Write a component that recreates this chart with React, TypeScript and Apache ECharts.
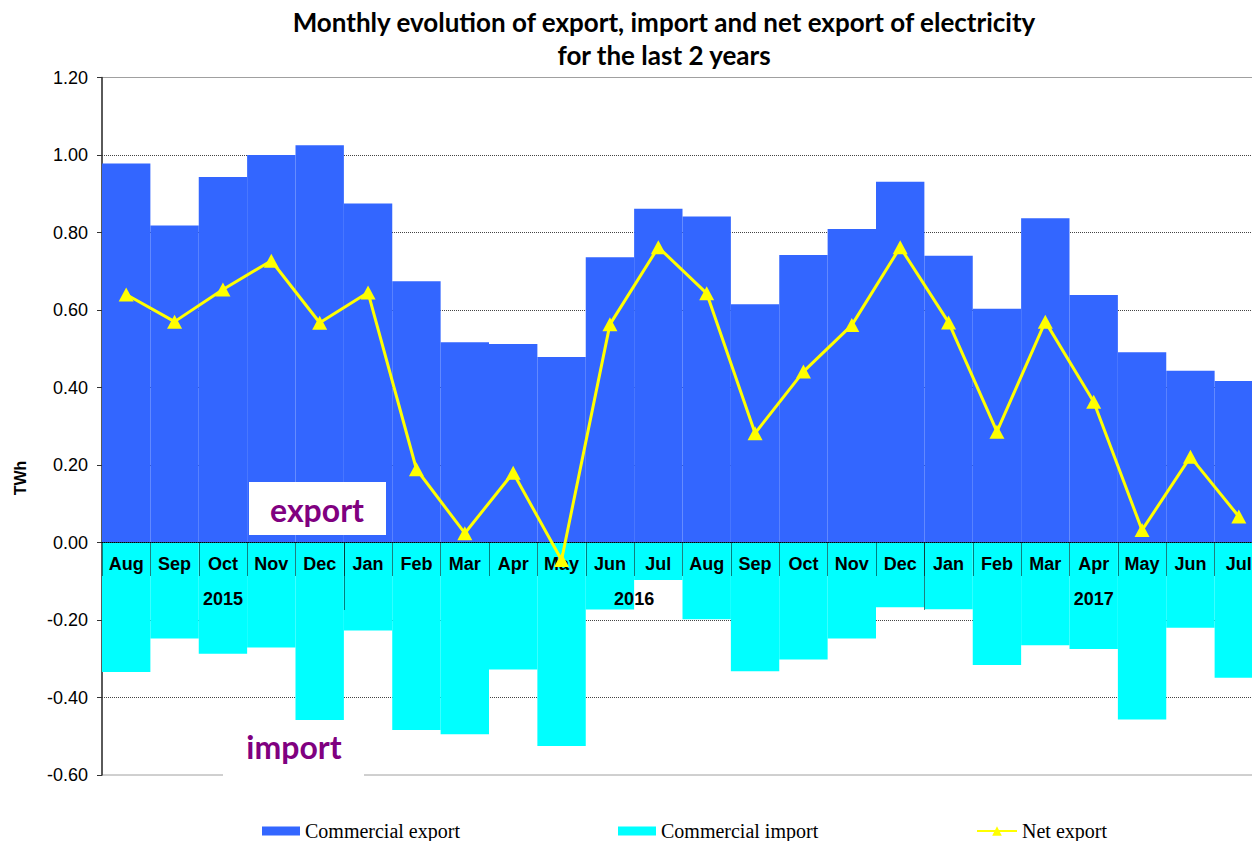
import React, { useEffect, useRef } from "react";
import * as echarts from "echarts";

const months = ["Aug", "Sep", "Oct", "Nov", "Dec", "Jan", "Feb", "Mar", "Apr", "May", "Jun", "Jul", "Aug", "Sep", "Oct", "Nov", "Dec", "Jan", "Feb", "Mar", "Apr", "May", "Jun", "Jul"];
const exportValues = [0.978, 0.818, 0.943, 1.0, 1.025, 0.875, 0.674, 0.517, 0.512, 0.479, 0.736, 0.861, 0.841, 0.615, 0.742, 0.809, 0.931, 0.74, 0.603, 0.837, 0.639, 0.491, 0.443, 0.417];
const importValues = [-0.334, -0.248, -0.287, -0.271, -0.458, -0.227, -0.484, -0.495, -0.328, -0.525, -0.173, -0.097, -0.198, -0.332, -0.302, -0.248, -0.167, -0.172, -0.316, -0.265, -0.275, -0.457, -0.22, -0.349];
const netValues = [0.64, 0.57, 0.653, 0.727, 0.567, 0.645, 0.189, 0.024, 0.18, -0.045, 0.563, 0.762, 0.643, 0.282, 0.441, 0.561, 0.762, 0.568, 0.286, 0.57, 0.363, 0.032, 0.221, 0.067];
const years = ["2015", "2016", "2017"];
const yearMonthCounts = [5, 12, 7];
const yTicks = { min: -0.6, max: 1.2, interval: 0.2 };

// half-month slots for the year axis (boundaryGap false: slot k sits at k/2 months)
const yearSlots: string[] = new Array(months.length * 2 + 1).fill("");
const yearTickSlots = new Set<number>();
const yearLabelSlots = new Set<number>();
{
  let start = 0;
  years.forEach((y, i) => {
    const c = yearMonthCounts[i];
    const mid = start * 2 + c;
    yearSlots[mid] = y;
    yearLabelSlots.add(mid);
    if (start > 0) yearTickSlots.add(start * 2);
    start += c;
  });
}

const axisFont = "'Liberation Sans', Arial, sans-serif";
const calibriLike = "Lato, 'Open Sans', sans-serif";

export default function App() {
  const ref = useRef<HTMLDivElement>(null);
  useEffect(() => {
    if (!ref.current) return;
    const chart = echarts.init(ref.current, null, { renderer: "svg" });
    const legendText = { fontFamily: "'Liberation Serif', 'Times New Roman', serif", fontSize: 20, color: "#000" };
    chart.setOption({
      animation: false,
      backgroundColor: "#fff",
      title: {
        text: "Monthly evolution of export, import and net export of electricity\nfor the last 2 years",
        left: 659,
        top: 0,
        textAlign: "center",
        textStyle: { fontFamily: calibriLike, fontSize: 26, fontWeight: "bold", lineHeight: 33, color: "#000" },
      },
      grid: {
        left: 102,
        width: 1161,
        top: 77.5,
        bottom: 66,
        containLabel: false,
        outerBoundsMode: "none",
        show: true,
        borderColor: "#a0a0a0",
        borderWidth: 1,
        backgroundColor: "transparent",
      },
      legend: [
        { data: ["Commercial export"], left: 262, top: 821, padding: 0, itemWidth: 38, itemHeight: 9, itemGap: 0, icon: "rect", textStyle: legendText },
        { data: ["Commercial import"], left: 618, top: 821, padding: 0, itemWidth: 38, itemHeight: 9, itemGap: 0, icon: "rect", textStyle: legendText },
        { data: ["Net export"], left: 976, top: 821, padding: 0, itemWidth: 40, itemHeight: 12, itemGap: 0, textStyle: legendText },
      ],
      xAxis: [
        {
          type: "category",
          data: months,
          boundaryGap: true,
          position: "bottom",
          z: 3,
          axisLine: { onZero: false, lineStyle: { color: "#000", type: "dotted", width: 1 } },
          axisTick: { show: true, interval: 0, length: 34, lineStyle: { color: "#000", type: "dotted", width: 1 } },
          axisLabel: { interval: 0, margin: 12, fontFamily: axisFont, fontSize: 18, fontWeight: "bold", color: "#000" },
          splitLine: { show: false },
        },
        {
          type: "category",
          data: yearSlots,
          boundaryGap: false,
          position: "bottom",
          z: 3,
          axisLine: { show: false, onZero: false },
          axisTick: { show: true, interval: (i: number) => yearTickSlots.has(i), length: 68, lineStyle: { color: "#000", type: "dotted", width: 1 } },
          axisLabel: { interval: (i: number) => yearLabelSlots.has(i), margin: 47, fontFamily: axisFont, fontSize: 18, fontWeight: "bold", color: "#000" },
          splitLine: { show: false },
        },
      ],
      yAxis: {
        type: "value",
        min: yTicks.min,
        max: yTicks.max,
        interval: yTicks.interval,
        axisLine: { show: true, lineStyle: { color: "#333", width: 1.5 } },
        axisTick: { show: true, length: 5, lineStyle: { color: "#333" } },
        axisLabel: { margin: 14, fontFamily: axisFont, fontSize: 18, color: "#000", formatter: (v: number) => v.toFixed(2) },
        splitLine: { show: true, showMinLine: false, showMaxLine: false, lineStyle: { color: "#444", type: "dotted", width: 1 } },
      },
      series: [
        {
          name: "Commercial export",
          type: "bar",
          xAxisIndex: 0,
          data: exportValues,
          barCategoryGap: "0%",
          barGap: "-100%",
          itemStyle: { color: "#3366FF" },
          z: 2,
        },
        {
          name: "Commercial import",
          type: "bar",
          xAxisIndex: 0,
          data: importValues,
          barCategoryGap: "0%",
          barGap: "-100%",
          itemStyle: { color: "#00FFFF" },
          z: 2,
        },
        {
          name: "Net export",
          type: "line",
          xAxisIndex: 0,
          data: netValues,
          symbol: "triangle",
          symbolSize: [15, 14],
          lineStyle: { color: "#FFFF00", width: 3 },
          itemStyle: { color: "#FFFF00" },
          z: 5,
        },
      ],
      graphic: [
        {
          type: "text",
          x: 20,
          y: 478,
          rotation: Math.PI / 2,
          style: { text: "TWh", fontFamily: axisFont, fontSize: 16, fontWeight: "bold", fill: "#000", align: "center", verticalAlign: "middle" },
          z: 10,
        },
        { type: "rect", shape: { x: 249, y: 482, width: 137, height: 53 }, style: { fill: "#fff" }, z: 10 },
        {
          type: "text",
          x: 317,
          y: 509,
          style: { text: "export", fontFamily: calibriLike, fontSize: 32, fontWeight: "bold", fill: "#800080", align: "center", verticalAlign: "middle" },
          z: 11,
        },
        { type: "rect", shape: { x: 223, y: 723, width: 141, height: 54 }, style: { fill: "#fff" }, z: 10 },
        {
          type: "text",
          x: 294,
          y: 746,
          style: { text: "import", fontFamily: calibriLike, fontSize: 32, fontWeight: "bold", fill: "#800080", align: "center", verticalAlign: "middle" },
          z: 11,
        },
      ],
    });
    // move both category axes up to the zero line of the value axis
    const zeroPx = chart.convertToPixel({ yAxisIndex: 0 }, 0) as number;
    const minPx = chart.convertToPixel({ yAxisIndex: 0 }, yTicks.min) as number;
    const off = zeroPx - minPx;
    chart.setOption({ xAxis: [{ offset: off }, { offset: off }] });
    return () => chart.dispose();
  }, []);
  return <div ref={ref} style={{ position: "absolute", left: 0, top: 0, width: 1252, height: 841 }} />;
}
